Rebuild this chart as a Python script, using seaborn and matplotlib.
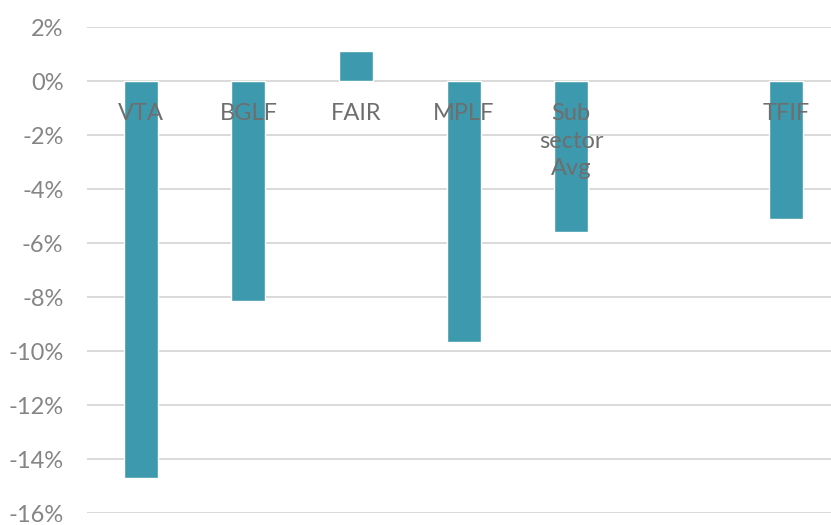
import numpy as np
import pandas as pd
import seaborn as sns
import matplotlib.pyplot as plt
from matplotlib.ticker import FuncFormatter

# data
categories = ["VTA", "BGLF", "FAIR", "MPLF", "Sub\nsector\nAvg", "TFIF"]
values = [-14.7, -8.15, 1.1, -9.65, -5.6, -5.1]
# the original has an empty slot between the sub sector average and TFIF
order = ["VTA", "BGLF", "FAIR", "MPLF", "Sub\nsector\nAvg", " ", "TFIF"]
yticks = list(range(-16, 3, 2))

sns.set_theme(style="white")
plt.rcParams["font.family"] = ["Lato", "DejaVu Sans"]

df = pd.DataFrame({"fund": categories, "ret": values})

fig = plt.figure(figsize=(8.31, 5.25), dpi=100)
ax = fig.add_axes([87 / 831, 12 / 525, 753.2 / 831, 486 / 525])

sns.barplot(data=df, x="fund", y="ret", order=order, color="#3D9AAE",
            saturation=1, width=0.316, ax=ax, zorder=3)

ax.set_ylim(-16, 2)
ax.set_xlim(-0.5, len(order) - 0.5)
ax.set_yticks(yticks)
ax.yaxis.set_major_formatter(FuncFormatter(lambda v, _: f"{v:.0f}%"))
ax.grid(axis="y", color="#d9d9d9", linewidth=1.4, zorder=0)
ax.grid(axis="x", visible=False)
for s in ax.spines.values():
    s.set_visible(False)
ax.tick_params(axis="y", length=0, pad=17, labelsize=17, labelcolor="#858585")
ax.set_xticks([])
ax.set_xlabel("")
ax.set_ylabel("")

# category names sit just under the zero line, like the original
for i, name in enumerate(order):
    if name.strip():
        ax.annotate(name, xy=(i, 0), xytext=(0, -16), textcoords="offset points",
                    ha="center", va="top", fontsize=17,
                    color="#6e6e6e", linespacing=1.38, zorder=4)

fig.savefig("out.png", dpi=100)
